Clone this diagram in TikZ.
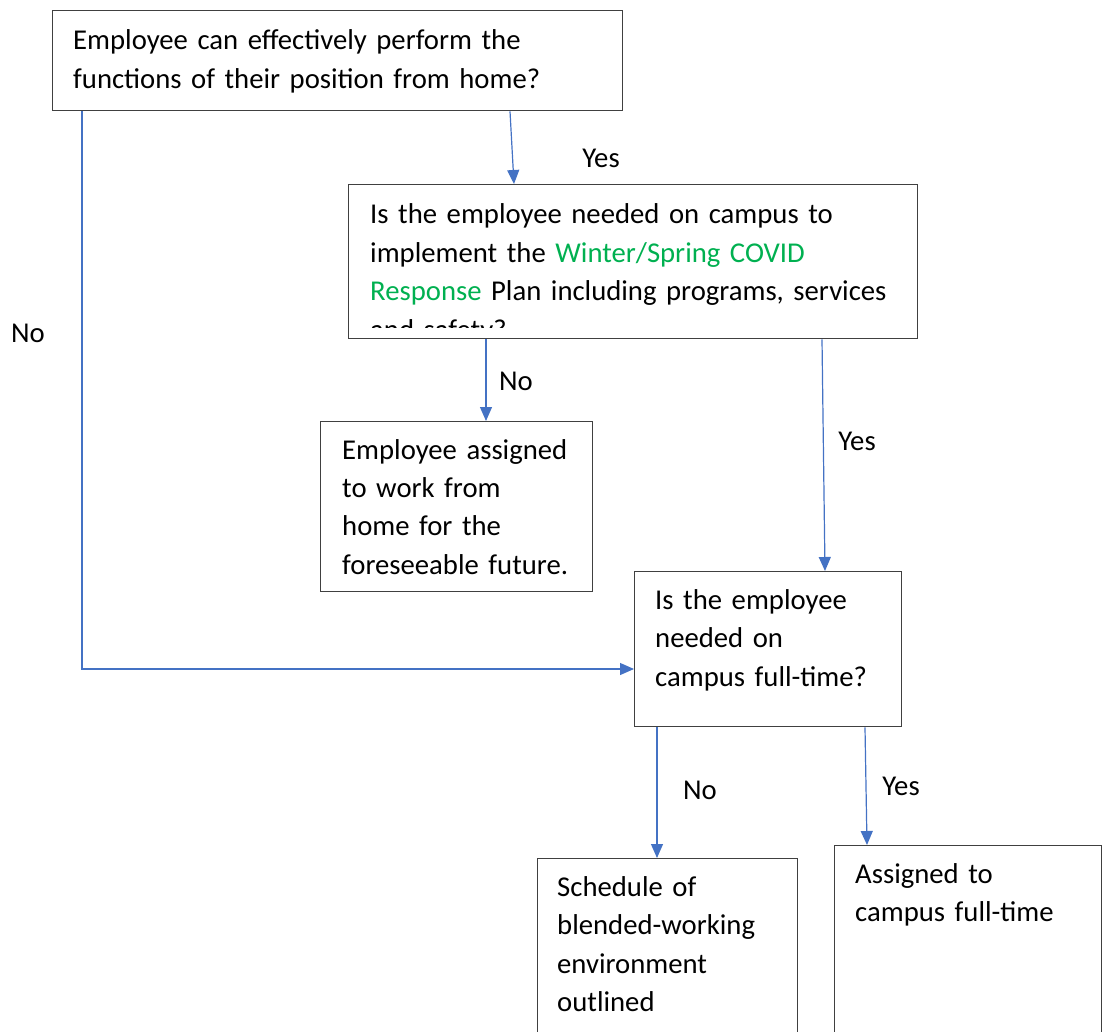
\documentclass[tikz,border=0pt]{standalone}
\usepackage{fontspec}
\setmainfont{Carlito}
\usetikzlibrary{calc,arrows.meta}
\definecolor{arrowblue}{HTML}{4472C4}
\definecolor{boxgray}{HTML}{404040}
\definecolor{plangreen}{HTML}{00B050}
\begin{document}
\begin{tikzpicture}[x=1pt,y=-1pt,
  box/.style={draw=boxgray,line width=1.3pt,rectangle,anchor=north west,inner sep=0pt},
  txt/.style={anchor=base west,inner sep=0pt,align=left,text width=#1,font=\fontsize{28.7}{38.5}\selectfont},
  lbl/.style={inner sep=0pt,font=\fontsize{28.7}{34}\selectfont},
  conn/.style={draw=arrowblue,line width=1.2pt,-{Triangle[length=14pt,width=12pt]}}]
\useasboundingbox (0,0) rectangle (1109,1032);
% boxes
\node[box,minimum width=570pt,minimum height=100pt] (A) at (52,10) {};
\node[box,minimum width=569pt,minimum height=154pt] (B) at (348,184) {};
\node[box,minimum width=272pt,minimum height=170pt] (C) at (320,421) {};
\node[box,minimum width=267pt,minimum height=155pt] (D) at (634,571) {};
\node[box,minimum width=260pt,minimum height=220pt] (E) at (537,858) {};
\node[box,minimum width=267pt,minimum height=230pt] (F) at (834,845) {};
% texts
\node[txt=545pt] (tA) at (73,50) {Employee can effectively perform the\\functions of their position from home?};
\begin{scope}
\clip (349,185) rectangle (916,328);
\node[txt=545pt] (tB) at (370,224) {Is the employee needed on campus to\\implement the \textcolor{plangreen}{Winter/Spring COVID}\\\textcolor{plangreen}{Response} Plan including programs, services\\and safety?};
\end{scope}
\node[txt=260pt] (tC) at (342,459) {Employee assigned\\to work from\\home for the\\foreseeable future.};
\node[txt=240pt] (tD) at (655,609) {Is the employee\\needed on\\campus full-time?};
\node[txt=235pt] (tE) at (557,896) {Schedule of\\blended-working\\environment\\outlined};
\node[txt=240pt] (tF) at (855,883) {Assigned to\\campus full-time};
% labels
\node[lbl] (lY1) at (601,158) {Yes};
\node[lbl] (lN1) at (28,333) {No};
\node[lbl] (lN2) at (516,381) {No};
\node[lbl] (lY2) at (857,441) {Yes};
\node[lbl] (lN3) at (700,790) {No};
\node[lbl] (lY3) at (901,786) {Yes};
% connectors
\draw[conn] ($(A.south west)+(458,0)$) -- ($(B.north west)+(166,0)$);
\draw[conn] ($(A.south west)+(30,0)$) |- ($(D.north west)+(0,98)$);
\draw[conn] ($(B.south west)+(138,0)$) -- ($(C.north west)+(166,0)$);
\draw[conn] ($(B.south west)+(474,0)$) -- ($(D.north west)+(191,0)$);
\draw[conn] ($(D.south west)+(23,0)$) -- ($(E.north west)+(120,0)$);
\draw[conn] ($(D.south west)+(231,0)$) -- ($(F.north west)+(33,0)$);
\end{tikzpicture}
\end{document}
